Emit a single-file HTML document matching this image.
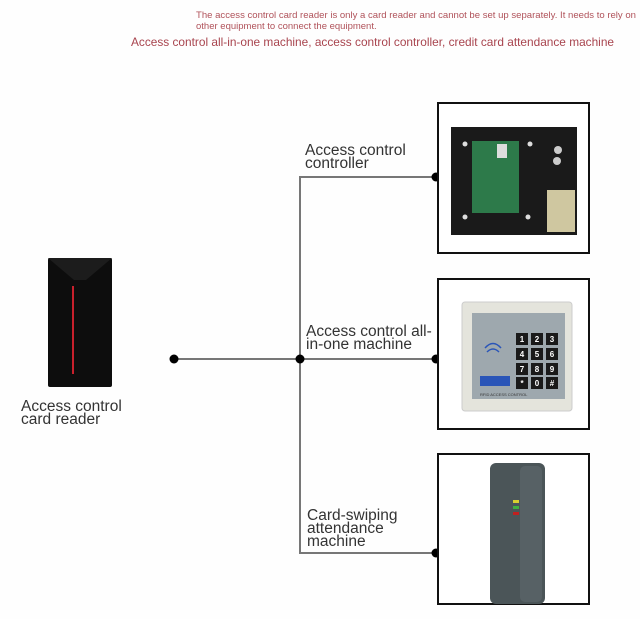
<!DOCTYPE html>
<html><head><meta charset="utf-8"><style>
html,body{margin:0;padding:0;background:#fff;}
body{width:640px;height:619px;overflow:hidden;}
svg{display:block;}
text{font-family:"Liberation Sans",sans-serif;}
</style></head><body>
<svg width="640" height="619" viewBox="0 0 640 619" xmlns="http://www.w3.org/2000/svg">
<rect width="640" height="619" fill="#fefefe"/>
<text x="196" y="18" font-size="9.5" fill="#b0525a" textLength="440" lengthAdjust="spacingAndGlyphs">The access control card reader is only a card reader and cannot be set up separately. It needs to rely on</text>
<text x="196" y="29" font-size="9.5" fill="#b0525a">other equipment to connect the equipment.</text>
<text x="131" y="46" font-size="12" fill="#a8444e" textLength="483" lengthAdjust="spacingAndGlyphs">Access control all-in-one machine, access control controller, credit card attendance machine</text>

<g stroke="#777" stroke-width="2" fill="none">
<line x1="174" y1="359" x2="436" y2="359"/>
<polyline points="436,177 300,177 300,553 436,553"/>
</g>
<g fill="#000">
<circle cx="174" cy="359" r="4.5"/><circle cx="300" cy="359" r="4.5"/>
<circle cx="436" cy="177" r="4.5"/><circle cx="436" cy="359" r="4.5"/><circle cx="436" cy="553" r="4.5"/>
</g>

<g stroke="#111" stroke-width="2" fill="#fff">
<rect x="438" y="103" width="151" height="150"/>
<rect x="438" y="279" width="151" height="150"/>
<rect x="438" y="454" width="151" height="150"/>
</g>

<g fill="#333" font-size="15.5">
<text x="305" y="155">Access control</text><text x="305" y="168">controller</text>
<text x="306" y="336">Access control all-</text><text x="306" y="349">in-one machine</text>
<text x="307" y="520">Card-swiping</text><text x="307" y="533">attendance</text><text x="307" y="546">machine</text>
<text x="21" y="411">Access control</text><text x="21" y="424">card reader</text>
</g>

<rect x="48" y="258" width="64" height="129" rx="2" fill="#0d0d0d"/>
<polygon points="48,258 112,258 86,280 74,280" fill="#1c1c1c"/>
<rect x="72" y="286" width="2" height="88" fill="#c8202c"/>

<rect x="451" y="127" width="126" height="108" fill="#1a1a1a"/>
<rect x="472" y="141" width="47" height="72" fill="#2d7a4a"/>
<rect x="497" y="144" width="10" height="14" fill="#ddd"/>
<rect x="547" y="190" width="28" height="42" fill="#cfc7a0"/>
<circle cx="558" cy="150" r="4" fill="#ccc"/><circle cx="557" cy="161" r="4" fill="#ccc"/>
<circle cx="465" cy="144" r="2.5" fill="#ddd"/><circle cx="530" cy="144" r="2.5" fill="#ddd"/>
<circle cx="465" cy="217" r="2.5" fill="#ddd"/><circle cx="528" cy="217" r="2.5" fill="#ddd"/>

<rect x="462" y="302" width="110" height="109" rx="3" fill="#e4e4dc" stroke="#ccc"/>
<rect x="472" y="313" width="93" height="86" fill="#9ea8ae"/>
<g fill="#1a1a1a">
<rect x="516" y="333" width="12" height="12"/><rect x="531" y="333" width="12" height="12"/><rect x="546" y="333" width="12" height="12"/>
<rect x="516" y="348" width="12" height="12"/><rect x="531" y="348" width="12" height="12"/><rect x="546" y="348" width="12" height="12"/>
<rect x="516" y="363" width="12" height="12"/><rect x="531" y="363" width="12" height="12"/><rect x="546" y="363" width="12" height="12"/>
<rect x="516" y="377" width="12" height="12"/><rect x="531" y="377" width="12" height="12"/><rect x="546" y="377" width="12" height="12"/>
</g>
<g fill="#fff" font-size="8" font-weight="bold" text-anchor="middle">
<text x="522" y="342">1</text><text x="537" y="342">2</text><text x="552" y="342">3</text>
<text x="522" y="357">4</text><text x="537" y="357">5</text><text x="552" y="357">6</text>
<text x="522" y="372">7</text><text x="537" y="372">8</text><text x="552" y="372">9</text>
<text x="522" y="386">*</text><text x="537" y="386">0</text><text x="552" y="386">#</text>
</g>
<rect x="480" y="376" width="30" height="10" fill="#2a55b8"/>
<path d="M487 352 q6 -6 12 0 M485 348 q8 -9 16 0" stroke="#2a55b8" stroke-width="1.5" fill="none"/>
<text x="480" y="396" font-size="4" fill="#333">RFID ACCESS CONTROL</text>

<rect x="490" y="463" width="55" height="141" rx="6" fill="#4b5558"/>
<rect x="520" y="466" width="22" height="136" rx="5" fill="#576165"/>
<rect x="513" y="500" width="6" height="3" fill="#d8d030"/>
<rect x="513" y="506" width="6" height="3" fill="#40b040"/>
<rect x="513" y="512" width="6" height="3" fill="#c02020"/>
</svg>
</body></html>
